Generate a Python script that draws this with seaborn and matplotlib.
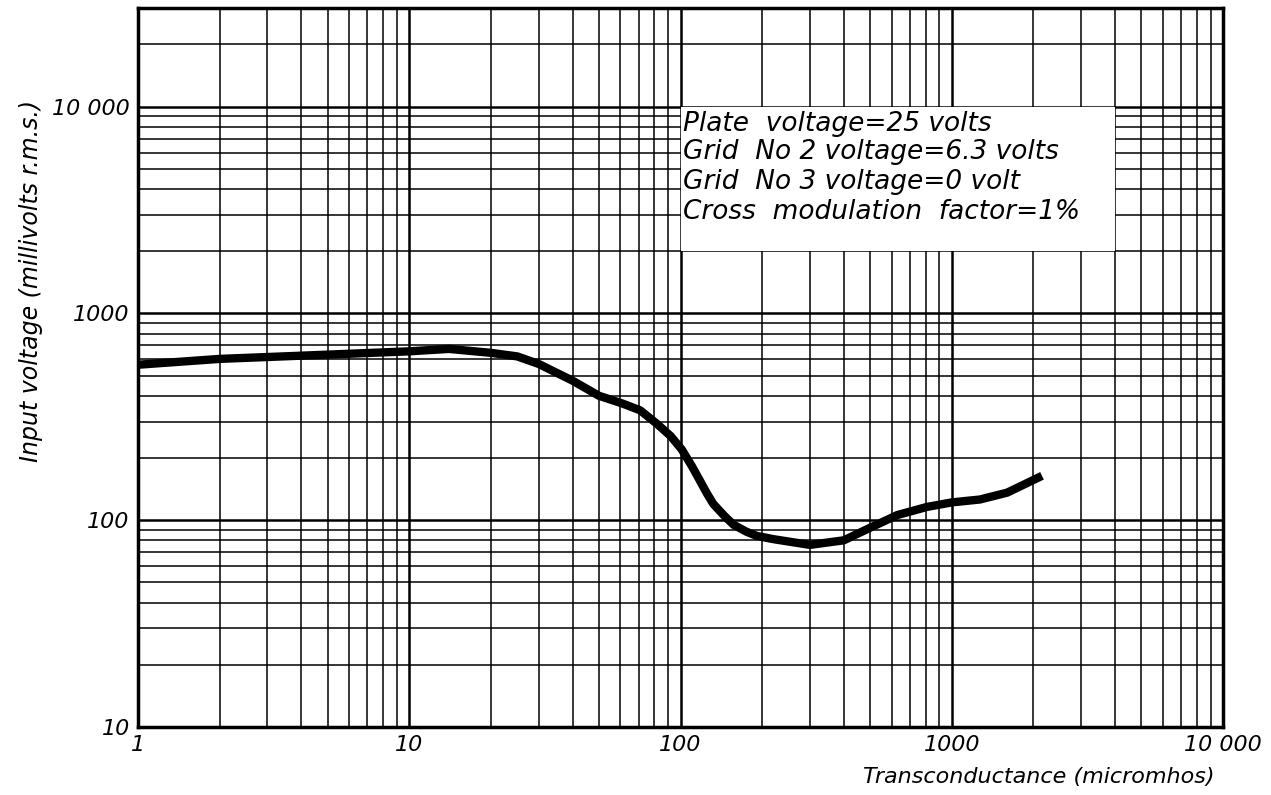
import numpy as np
import pandas as pd
import matplotlib
matplotlib.use("Agg")
import matplotlib.pyplot as plt
from matplotlib.patches import Rectangle
import seaborn as sns

# curve
gm = [1, 2, 4, 10, 14, 20, 25, 30, 40, 50, 61, 71, 82, 92, 101, 110, 118, 125, 132, 145, 157, 175, 191,
      220, 300, 400, 500, 630, 810, 1000, 1270, 1600, 2150]
vin = [565, 603, 625, 656, 674, 645, 620, 570, 473, 400, 367, 340, 292, 255, 220, 183, 155, 135, 120, 105, 95, 88, 84,
       81, 76, 80, 92, 106, 116, 122, 126, 136, 164]

xticks = [1, 10, 100, 1000, 10000]
xticklabels = ["1", "10", "100", "1000", "10 000"]
yticks = [10, 100, 1000, 10000]
yticklabels = ["10", "100", "1000", "10 000"]

notes = ["Plate  voltage=25 volts",
         "Grid  No 2 voltage=6.3 volts",
         "Grid  No 3 voltage=0 volt",
         "Cross  modulation  factor=1%"]
note_y = [8270, 6050, 4330, 3095]

df = pd.DataFrame({"gm": gm, "vin": vin})

sns.set_style("white")
plt.rcParams["font.family"] = ["DejaVu Sans"]
plt.rcParams["text.color"] = "black"
plt.rcParams["axes.labelcolor"] = "black"
plt.rcParams["xtick.color"] = "black"
plt.rcParams["ytick.color"] = "black"

fig = plt.figure(figsize=(12.71, 7.95), dpi=100)
ax = fig.add_axes([0.1086, 0.0855, 0.8537, 0.9044])
ax.set_xscale("log")
ax.set_yscale("log")
ax.set_xlim(1, 10000)
ax.set_ylim(10, 30000)

# log paper grid
for d in [1, 10, 100, 1000]:
    for m in range(1, 10):
        v = d * m
        if v > 1:
            ax.axvline(v, color="black", lw=1.8 if m == 1 else 1.1, zorder=1)
for d in [10, 100, 1000, 10000]:
    for m in range(1, 10):
        v = d * m
        if 10 < v < 30000:
            ax.axhline(v, color="black", lw=1.8 if m == 1 else 1.1, zorder=1)

# white box for the notes
ax.add_patch(Rectangle((100, 2000), 3900, 8000, facecolor="white", edgecolor="none", zorder=2))
for t, yv in zip(notes, note_y):
    ax.text(1.02e2, yv, t, fontsize=19, style="italic", va="center", ha="left", zorder=3)

sns.lineplot(data=df, x="gm", y="vin", color="black", lw=6, ax=ax, zorder=4,
             solid_joinstyle="round", solid_capstyle="butt")

ax.set_xticks(xticks)
ax.set_xticklabels(xticklabels, fontsize=16, style="italic")
ax.set_yticks(yticks)
ax.set_yticklabels(yticklabels, fontsize=16, style="italic")
ax.minorticks_off()
ax.tick_params(length=0, pad=6)

ax.set_xlabel("Transconductance (micromhos)", fontsize=16, style="italic")
ax.xaxis.set_label_coords(0.83, -0.055)
ax.set_ylabel("Input voltage (millivolts r.m.s.)", fontsize=17, style="italic")
ax.yaxis.set_label_coords(-0.088, 0.62)

for s in ax.spines.values():
    s.set_visible(True)
    s.set_color("black")
    s.set_linewidth(2.5)
    s.set_zorder(5)

fig.savefig("out.png", dpi=100)
